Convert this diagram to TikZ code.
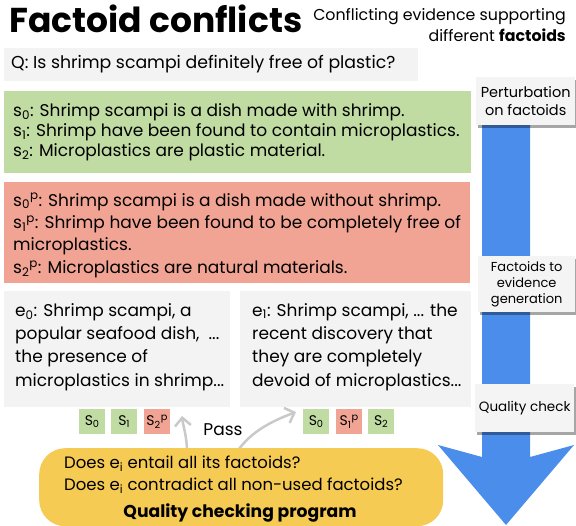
\documentclass[tikz,border=0pt]{standalone}
\usepackage{fontspec}
\setmainfont{Poppins}
\usetikzlibrary{shadows,arrows.meta}
\definecolor{boxgray}{HTML}{F3F3F3}
\definecolor{factgreen}{HTML}{C1DCA2}
\definecolor{factred}{HTML}{F2A494}
\definecolor{qyellow}{HTML}{F6CB53}
\definecolor{flowblue}{HTML}{4A8DEB}
\definecolor{passgray}{HTML}{C9C9C9}
\definecolor{labelfill}{HTML}{F4F4F4}
\newcommand{\fsz}[2]{\fontsize{#1}{#2}\selectfont}
\begin{document}
\begin{tikzpicture}[x=1pt,y=-1pt,
 panel/.style={inner sep=0pt, anchor=north west},
 txt/.style={inner sep=0pt, anchor=west, align=left},
 lbl/.style={fill=labelfill, inner sep=0pt, align=center, anchor=north west,
   drop shadow={shadow xshift=1.5pt,shadow yshift=-2.5pt,opacity=0.35,fill=black}},
 chip/.style={inner sep=0pt, minimum width=26pt, minimum height=25pt, anchor=north west, font=\fsz{14}{16}},
 passarrow/.style={draw=passgray, line width=2.5pt, -{Straight Barb[length=8pt,width=16pt]}}
]
\useasboundingbox (0,0) rectangle (576,526);

% title
\node[anchor=base west, inner sep=0pt, font=\bfseries\fsz{34.5}{34.5}] (title) at (9,33) {Factoid conflicts};
\node[anchor=north east, inner sep=0pt, align=right, font=\fsz{15.8}{21}] (sub) at (566,8.3) {Conflicting evidence supporting\\different \textbf{factoids}};

% blue flow arrow
\fill[flowblue] (482,90) -- (482,457) -- (438,445) -- (506,525) -- (574,445) -- (530,457) -- (530,90) -- cycle;

% question
\node[panel, fill=boxgray, minimum width=414pt, minimum height=33pt] (qbox) at (4,48) {};
\node[txt, font=\fsz{17.3}{20}] (qtext) at (11,64.5) {Q: Is shrimp scampi definitely free of plastic?};

% green factoids
\node[panel, fill=factgreen, minimum width=467pt, minimum height=82pt] (gbox) at (4,91) {};
\node[txt, font=\fsz{17}{20}] (gtext) at (13,132.5) {s\textsubscript{0}: Shrimp scampi is a dish made with shrimp.\\
s\textsubscript{1}: Shrimp have been found to contain microplastics.\\
s\textsubscript{2}: Microplastics are plastic material.};

% red factoids
\node[panel, fill=factred, minimum width=466pt, minimum height=101pt] (rbox) at (4,182) {};
\node[txt, font=\fsz{17}{22.4}] (rtext) at (13,235.5) {s\textsubscript{0}\textsuperscript{p}: Shrimp scampi is a dish made without shrimp.\\
s\textsubscript{1}\textsuperscript{p}: Shrimp have been found to be completely free of\\
microplastics.\\
s\textsubscript{2}\textsuperscript{p}: Microplastics are natural materials.};

% evidence boxes
\node[panel, fill=boxgray, minimum width=226pt, minimum height=116pt] (e0box) at (4,291) {};
\node[txt, font=\fsz{17}{23.3}] (e0text) at (15,347) {e\textsubscript{0}: Shrimp scampi, a\\
popular seafood dish, \ ...\\
the presence of\\
microplastics in shrimp...};
\node[panel, fill=boxgray, minimum width=231pt, minimum height=116pt] (e1box) at (240,291) {};
\node[txt, font=\fsz{17}{23.3}] (e1text) at (252,347) {e\textsubscript{1}: Shrimp scampi, ... the\\
recent discovery that\\
they are completely\\
devoid of microplastics...};

% chips
\node[chip, fill=factgreen] (la) at (79,409) {S\textsubscript{0}};
\node[chip, fill=factgreen] (lb) at (111,409) {S\textsubscript{1}};
\node[chip, fill=factred] (lc) at (144,409) {S\textsubscript{2}\textsuperscript{p}};
\node[chip, fill=factgreen] (ra) at (303,409) {S\textsubscript{0}};
\node[chip, fill=factred] (rb) at (336,409) {S\textsubscript{1}\textsuperscript{p}};
\node[chip, fill=factgreen] (rc) at (368,409) {S\textsubscript{2}};

% pass arrows
\node[inner sep=0pt, font=\fsz{17}{20}] (pass) at (223,430) {Pass};
\coordinate (lstart) at (187,452);
\coordinate (lend) at (182,416);
\coordinate (rstart) at (237,452);
\coordinate (rend) at (296,412);
\draw[passarrow] (lstart) .. controls (187,436) and (183,426) .. (lend);
\draw[passarrow] (rstart) .. controls (250,432) and (272,421) .. (rend);

% quality checking program
\node[panel, fill=qyellow, rounded corners=26pt, minimum width=404pt, minimum height=78pt] (ybox) at (39,448) {};
\node[txt, font=\fsz{16.5}{20}] (y1) at (64,464) {Does e\textsubscript{i} entail all its factoids?};
\node[txt, font=\fsz{16.5}{20}] (y2) at (64,486) {Does e\textsubscript{i} contradict all non-used factoids?};
\node[inner sep=0pt, font=\bfseries\fsz{17.2}{20}] (y3) at (240,513) {Quality checking program};

% stage labels
\node[lbl, minimum width=99pt, minimum height=48pt, font=\fsz{14.5}{18}] (perturb) at (476,77) {Perturbation\\on factoids};
\node[lbl, minimum width=97pt, minimum height=56pt, font=\fsz{13}{16}] (gen) at (478,256) {Factoids to\\evidence\\generation};
\node[lbl, minimum width=99pt, minimum height=48pt, font=\fsz{13.5}{17}] (qc) at (475,384) {Quality check};
\end{tikzpicture}
\end{document}
